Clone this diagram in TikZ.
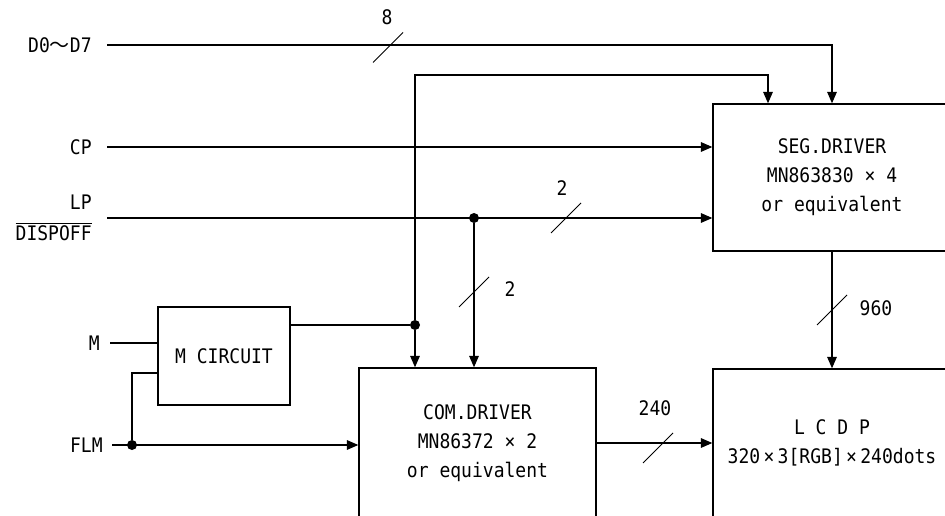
\documentclass[tikz,border=0pt]{standalone}
\usepackage{fontspec}
\setmainfont[FakeStretch=0.9]{DejaVu Sans Mono}
\newfontfamily\cjk{Noto Sans CJK JP}
\usepackage{tikz}
\usetikzlibrary{arrows.meta}

\begin{document}
\begin{tikzpicture}[x=0.02cm,y=-0.02cm,>={Triangle[length=6.5pt,width=5.5pt]},
  every node/.style={font=\fontsize{11.4pt}{16.6pt}\selectfont},
  blk/.style={draw,line width=0.85pt,align=center,inner sep=0pt},
  lbl/.style={anchor=east,inner xsep=0.3cm,inner ysep=0pt,align=right},
  jn/.style={circle,fill,inner sep=0pt,minimum size=0.2cm},
  sig/.style={line width=0.6pt},
  buswd/.style={inner sep=0pt}]
% frame of the sheet; the big blocks run off its right and lower edges
\useasboundingbox (0,0) rectangle (945,516);
\clip (0,0) rectangle (945,516);
% blocks
\node[blk,minimum width=4.76cm,minimum height=2.94cm] (seg) at (832,177.5)
  {SEG.DRIVER\\MN863830 × 4\\or equivalent};
\node[blk,minimum width=4.76cm,minimum height=2.96cm] (lcd) at (832,443)
  {L C D P\\320\,×\,3[RGB]\,×\,240dots};
\node[blk,minimum width=4.74cm,minimum height=3.0cm] (com) at (477.5,443)
  {COM.DRIVER\\MN86372 × 2\\or equivalent};
\node[blk,minimum width=2.64cm,minimum height=1.96cm] (mc) at (224,356) {M CIRCUIT};
% input signals
\node[lbl] (d) at (107,45) {D0{\cjk ～}D7};
\node[lbl] (cp) at (107,147) {CP};
\node[lbl] (lp) at (107,218) {LP\\[1pt]$\overline{\mbox{DISPOFF}}$};
\node[lbl,inner xsep=0.2cm] (m) at (110,343) {M};
\node[lbl,inner xsep=0.18cm] (flm) at (112,445) {FLM};
% junctions and bends
\node[jn] (lj) at (474,218) {};
\node[jn] (mj) at (415,325) {};
\node[jn] (fj) at (132,445) {};
\coordinate (tp) at (768,75);
\coordinate (mcin) at (158,373);
\coordinate (mcout) at (290,325);
% wiring
\draw[sig,->] (d) -| (seg);
\draw[sig,->] (cp) -- (cp -| seg.west);
\draw[sig,->] (lp) -- (lp -| seg.west);
\draw[sig,->] (lj) -- (lj |- com.north);
\draw[sig] (m) -- (m -| mc.west);
\draw[sig,->] (flm) -- (flm -| com.west);
\draw[sig] (fj) |- (mcin);
\draw[sig] (mcout) -- (mj);
\draw[sig,->] (mj) -- (mj |- com.north);
\draw[sig,->] (mj) |- (tp) -- (tp |- seg.north);
\draw[sig,->] (seg) -- (lcd);
\draw[sig,->] (com) -- (lcd);
% bus width marks
\foreach \bx/\by in {388/47.5,566/218,474/292,832/310,658/448}
  \draw[line width=0.5pt] (\bx,\by) ++(-15,15) -- ++(30,-30);
\node[buswd] (w8) at (387,17) {8};
\node[buswd] (w2a) at (562,188) {2};
\node[buswd] (w2b) at (510,289) {2};
\node[buswd] (w960) at (876,308) {960};
\node[buswd] (w240) at (655,408) {240};
\end{tikzpicture}
\end{document}
